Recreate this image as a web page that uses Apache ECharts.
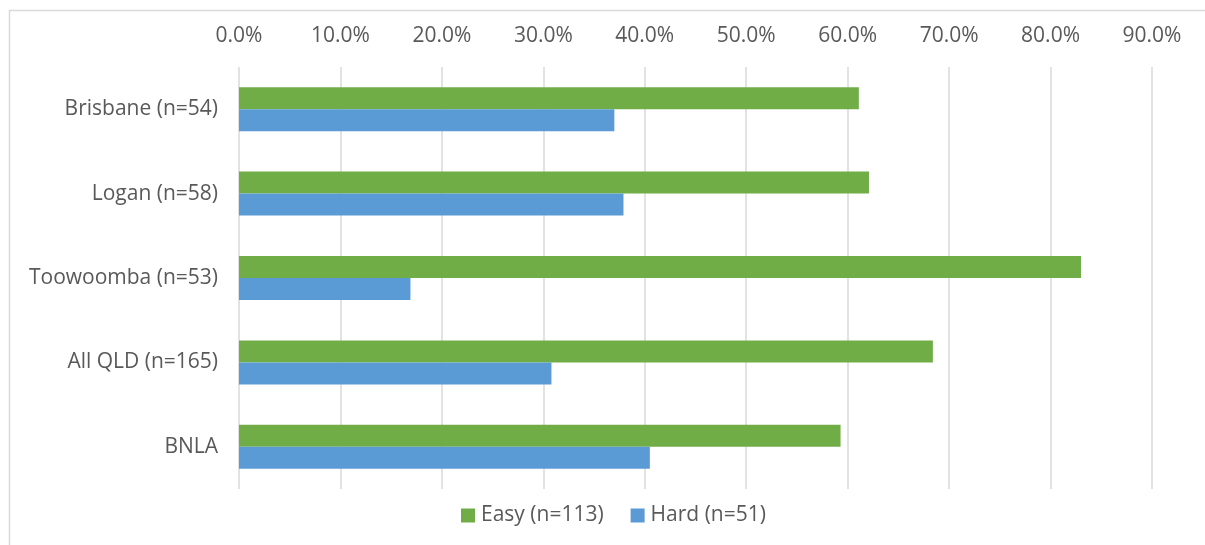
<!DOCTYPE html>
<html>
<head>
<meta charset="utf-8">
<script src="https://cdn.jsdelivr.net/npm/echarts@6/dist/echarts.min.js"></script>
<style>html,body{margin:0;padding:0;background:#fff;}#c{width:1205px;height:545px;}</style>
</head>
<body>
<div id="c"></div>
<script>
const categories = ['Brisbane (n=54)', 'Logan (n=58)', 'Toowoomba (n=53)', 'All QLD (n=165)', 'BNLA'];
const easyValues = [61.1, 62.1, 83.0, 68.4, 59.3];
const hardValues = [37.0, 37.9, 16.9, 30.8, 40.5];
const seriesNames = ['Easy (n=113)', 'Hard (n=51)'];

const FONT = 'Open Sans';
const chart = echarts.init(document.getElementById('c'));
chart.setOption({
  backgroundColor: '#fff',
  animation: false,
  textStyle: { fontFamily: FONT },
  graphic: [{
    type: 'rect', left: 7, top: 8, shape: { width: 1220, height: 560 },
    style: { fill: 'none', stroke: '#d9d9d9', lineWidth: 1.5 }, silent: true, z: -1
  }],
  grid: { left: 239, right: 53, top: 67, bottom: 56 },
  legend: {
    data: seriesNames, left: 456, top: 500, itemWidth: 14, itemHeight: 14, itemGap: 27,
    icon: 'rect',
    textStyle: { color: '#595959', fontSize: 21, fontFamily: FONT, padding: [0, 0, 0, 1] }
  },
  xAxis: {
    type: 'value', position: 'top', min: 0, max: 90, interval: 10,
    axisLine: { show: false }, axisTick: { show: false },
    axisLabel: { color: '#595959', fontSize: 21, margin: 20, fontFamily: FONT, formatter: v => v.toFixed(1) + '%' },
    splitLine: { lineStyle: { color: '#d9d9d9', width: 1.5 } }
  },
  yAxis: {
    type: 'category', data: categories, inverse: true,
    axisLine: { show: false }, axisTick: { show: false },
    axisLabel: { color: '#595959', fontSize: 21, margin: 21, fontFamily: FONT }
  },
  series: [
    { name: seriesNames[0], type: 'bar', data: easyValues, barWidth: 22, barGap: '0%', itemStyle: { color: '#70AD47' } },
    { name: seriesNames[1], type: 'bar', data: hardValues, barWidth: 22, barGap: '0%', itemStyle: { color: '#5B9BD5' } }
  ]
});
</script>
</body>
</html>
